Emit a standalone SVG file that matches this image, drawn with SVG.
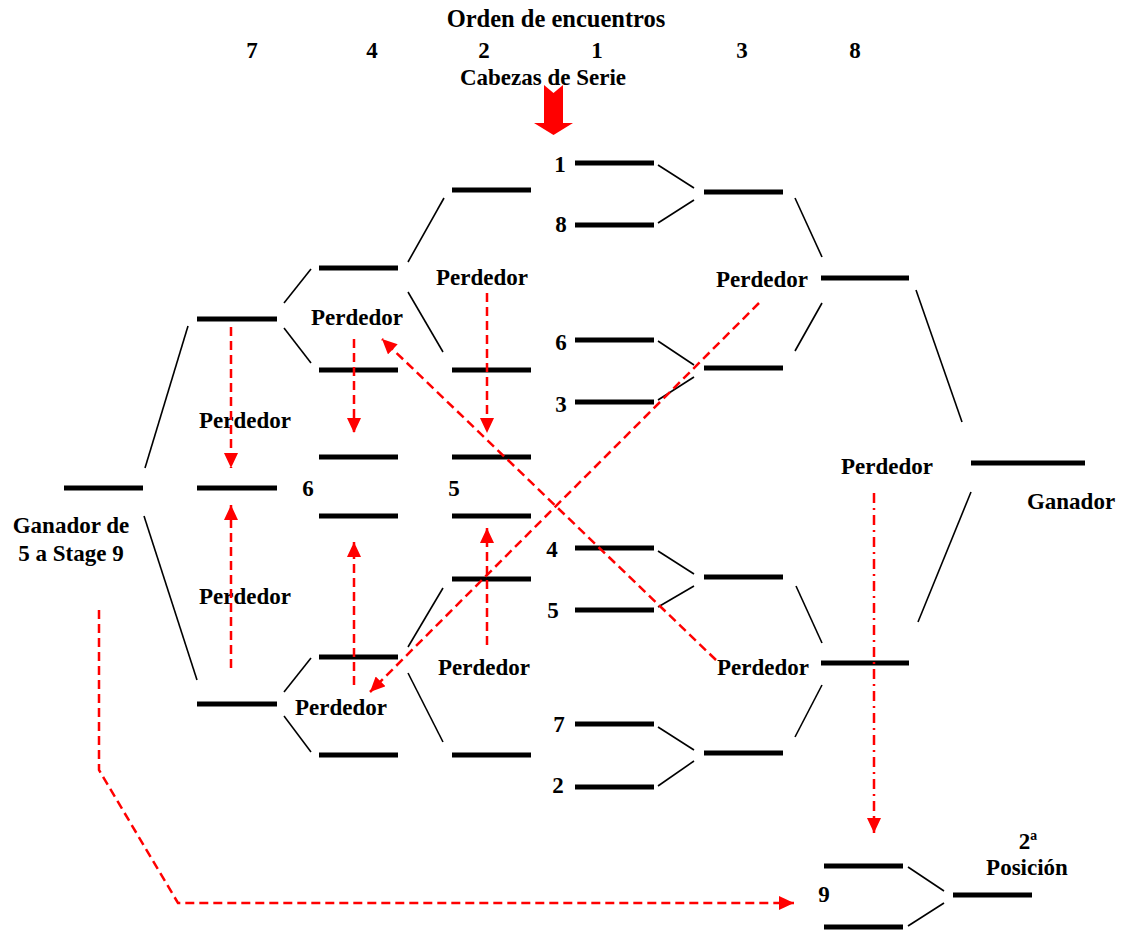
<svg xmlns="http://www.w3.org/2000/svg" width="1123" height="930" viewBox="0 0 1123 930">
<style>
.t{font-family:"Liberation Serif","Times New Roman",serif;font-weight:bold;font-size:23px;fill:#000;text-anchor:middle}
.h{font-size:24.5px}
.bar{stroke:#000;stroke-width:5;fill:none}
.ln{stroke:#000;stroke-width:1.6;fill:none}
.rd{stroke:#ff0000;stroke-width:2.5;fill:none;stroke-dasharray:9 5}
.rdd{stroke:#ff0000;stroke-width:2.5;fill:none;stroke-dasharray:10 5 2 5}
</style>
<defs>
<marker id="ah" viewBox="0 0 15 14" markerWidth="15" markerHeight="14" refX="15" refY="7" orient="auto" markerUnits="userSpaceOnUse">
<path d="M0,0 L15,7 L0,14 Z" fill="#ff0000"/>
</marker>
</defs>
<rect width="1123" height="930" fill="#fff"/>

<g id="header">
<text class="t h" x="556" y="27">Orden de encuentros</text>
<text class="t" x="252" y="58">7</text>
<text class="t" x="372" y="58">4</text>
<text class="t" x="484" y="58">2</text>
<text class="t" x="597" y="58">1</text>
<text class="t" x="742" y="58">3</text>
<text class="t" x="855" y="58">8</text>
<text class="t" x="543" y="85">Cabezas de Serie</text>
<polygon points="544,85 553.5,93 563,85 563,123 573,123 553.5,135 534,123 544,123" fill="#ff0000"/>
</g>

<g id="seeds">
<line class="bar" x1="575" y1="163" x2="654" y2="163"/><text class="t" x="560" y="172">1</text>
<line class="bar" x1="575" y1="225" x2="654" y2="225"/><text class="t" x="561" y="232">8</text>
<line class="bar" x1="575" y1="340" x2="654" y2="340"/><text class="t" x="561" y="350">6</text>
<line class="bar" x1="575" y1="402" x2="654" y2="402"/><text class="t" x="561" y="412">3</text>
<line class="bar" x1="575" y1="548" x2="654" y2="548"/><text class="t" x="552" y="557">4</text>
<line class="bar" x1="575" y1="610" x2="654" y2="610"/><text class="t" x="553" y="618">5</text>
<line class="bar" x1="575" y1="724" x2="654" y2="724"/><text class="t" x="559" y="732">7</text>
<line class="bar" x1="575" y1="787" x2="654" y2="787"/><text class="t" x="558" y="793">2</text>
</g>

<g id="round2-right">
<line class="bar" x1="704" y1="192" x2="783" y2="192"/>
<line class="bar" x1="704" y1="368" x2="783" y2="368"/>
<line class="bar" x1="704" y1="577" x2="783" y2="577"/>
<line class="bar" x1="704" y1="753" x2="783" y2="753"/>
</g>

<g id="round3-right">
<line class="bar" x1="821" y1="278" x2="909" y2="278"/>
<line class="bar" x1="821" y1="663" x2="909" y2="663"/>
</g>

<g id="final">
<line class="bar" x1="971" y1="463" x2="1085" y2="463"/>
<text class="t" x="1071" y="509">Ganador</text>
</g>

<g id="col2">
<line class="bar" x1="452" y1="190" x2="531" y2="190"/>
<line class="bar" x1="452" y1="370" x2="531" y2="370"/>
<line class="bar" x1="452" y1="457" x2="531" y2="457"/>
<line class="bar" x1="452" y1="516" x2="531" y2="516"/>
<line class="bar" x1="452" y1="579" x2="531" y2="579"/>
<line class="bar" x1="452" y1="755" x2="531" y2="755"/>
<text class="t" x="454" y="496">5</text>
</g>

<g id="col4">
<line class="bar" x1="319" y1="268" x2="398" y2="268"/>
<line class="bar" x1="319" y1="370" x2="398" y2="370"/>
<line class="bar" x1="319" y1="457" x2="398" y2="457"/>
<line class="bar" x1="319" y1="516" x2="398" y2="516"/>
<line class="bar" x1="319" y1="657" x2="398" y2="657"/>
<line class="bar" x1="319" y1="755" x2="398" y2="755"/>
<text class="t" x="308" y="496">6</text>
</g>

<g id="col7">
<line class="bar" x1="197" y1="319" x2="277" y2="319"/>
<line class="bar" x1="197" y1="488" x2="277" y2="488"/>
<line class="bar" x1="197" y1="704" x2="277" y2="704"/>
</g>

<g id="stage9-winner">
<line class="bar" x1="64" y1="488" x2="143" y2="488"/>
<text class="t" x="71" y="533">Ganador de</text>
<text class="t" x="71" y="561">5 a Stage 9</text>
</g>

<g id="second-place">
<line class="bar" x1="824" y1="866" x2="903" y2="866"/>
<line class="bar" x1="824" y1="927" x2="903" y2="927"/>
<line class="bar" x1="953" y1="895" x2="1032" y2="895"/>
<text class="t" x="824" y="902">9</text>
<text class="t" x="1028" y="849">2ª</text>
<text class="t" x="1027" y="875">Posición</text>
</g>

<g id="labels">
<text class="t" x="482" y="285">Perdedor</text>
<text class="t" x="762" y="287">Perdedor</text>
<text class="t" x="357" y="325">Perdedor</text>
<text class="t" x="245" y="428">Perdedor</text>
<text class="t" x="245" y="604">Perdedor</text>
<text class="t" x="887" y="474">Perdedor</text>
<text class="t" x="484" y="675">Perdedor</text>
<text class="t" x="763" y="675">Perdedor</text>
<text class="t" x="341" y="715">Perdedor</text>
</g>

<g id="connectors">
<line class="ln" x1="658" y1="165" x2="694" y2="188"/>
<line class="ln" x1="658" y1="223" x2="694" y2="200"/>
<line class="ln" x1="658" y1="341" x2="694" y2="365"/>
<line class="ln" x1="658" y1="400" x2="694" y2="377"/>
<line class="ln" x1="658" y1="551" x2="694" y2="574"/>
<line class="ln" x1="658" y1="607" x2="694" y2="586"/>
<line class="ln" x1="658" y1="727" x2="694" y2="750"/>
<line class="ln" x1="658" y1="786" x2="694" y2="761"/>
<line class="ln" x1="795" y1="198" x2="822" y2="257"/>
<line class="ln" x1="822" y1="303" x2="795" y2="351"/>
<line class="ln" x1="796" y1="586" x2="822" y2="643"/>
<line class="ln" x1="822" y1="685" x2="795" y2="737"/>
<line class="ln" x1="916" y1="290" x2="962" y2="422"/>
<line class="ln" x1="918" y1="622" x2="971" y2="492"/>
<line class="ln" x1="908" y1="867" x2="944" y2="891"/>
<line class="ln" x1="908" y1="926" x2="944" y2="903"/>
<line class="ln" x1="408" y1="262" x2="444" y2="198"/>
<line class="ln" x1="408" y1="292" x2="443" y2="352"/>
<line class="ln" x1="408" y1="647" x2="443" y2="588"/>
<line class="ln" x1="408" y1="673" x2="443" y2="742"/>
<line class="ln" x1="284" y1="303" x2="311" y2="269"/>
<line class="ln" x1="284" y1="328" x2="311" y2="363"/>
<line class="ln" x1="284" y1="692" x2="311" y2="658"/>
<line class="ln" x1="284" y1="716" x2="311" y2="752"/>
<line class="ln" x1="145" y1="468" x2="188" y2="326"/>
<line class="ln" x1="144" y1="516" x2="197" y2="680"/>

<line class="rd" x1="231" y1="327" x2="231" y2="468" marker-end="url(#ah)"/>
<line class="rd" x1="231" y1="668" x2="231" y2="505" marker-end="url(#ah)"/>
<line class="rd" x1="354" y1="339" x2="354" y2="433" marker-end="url(#ah)"/>
<line class="rd" x1="354" y1="685" x2="354" y2="542" marker-end="url(#ah)"/>
<line class="rd" x1="487" y1="293" x2="487" y2="433" marker-end="url(#ah)"/>
<line class="rd" x1="487" y1="645" x2="487" y2="528" marker-end="url(#ah)"/>
<line class="rd" x1="759" y1="303" x2="370" y2="692" marker-end="url(#ah)"/>
<line class="rd" x1="716" y1="660" x2="382" y2="339" marker-end="url(#ah)"/>
<line class="rdd" x1="874" y1="493" x2="874" y2="833" marker-end="url(#ah)"/>
<polyline class="rd" points="99,610 99,770 178,903 794,903" marker-end="url(#ah)"/>
</g>
</svg>
